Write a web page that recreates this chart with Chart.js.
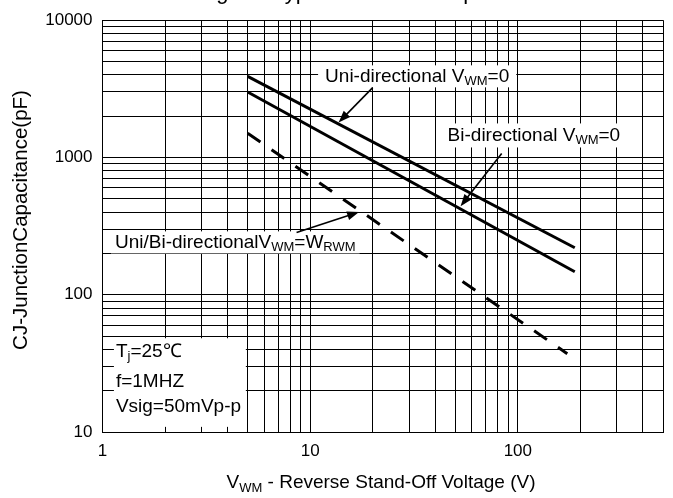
<!DOCTYPE html>
<html><head><meta charset="utf-8">
<script src="https://cdn.jsdelivr.net/npm/chart.js@4/dist/chart.umd.min.js"></script>
<style>html,body{margin:0;padding:0;background:#fff}#wrap{width:673px;height:498px}</style>
</head><body><div id="wrap"><canvas id="c" width="673" height="498"></canvas></div>
<script>
// ---- data ----
const xTicks = [1,2,3,4,5,6,7,8,9,10,20,30,40,50,60,70,80,90,100,200,300,400,500];
const yTicks = [10,20,30,40,50,60,70,80,90,100,200,300,400,500,600,700,800,900,1000,2000,3000,4000,5000,6000,7000,8000,9000,10000];
const xLabels = [1,10,100];
const yLabels = [10,100,1000,10000];
const uniX = [5, 188];
const uniY = [3900, 220];
const biX = [5, 188];
const biY = [3000, 147];
const rwmX = [5, 173];
const rwmY = [1500, 37.2];

const FONT = 'Liberation Sans, Arial, sans-serif';
Chart.defaults.font.family = FONT;
Chart.defaults.color = '#000';

function pts(xs, ys){ return xs.map((x,i)=>({x:x, y:ys[i]})); }

// annotation layout (data coordinates)
const notes = [
  {parts:[['Uni-directional V'],['WM',1],['=0']], x:11.8, y:3900, pad:[7,11]},
  {parts:[['Bi-directional V'],['WM',1],['=0']], x:45.9, y:1447, pad:[6,12]},
  {parts:[['Uni/Bi-directionalV'],['WM',1],['=W'],['RWM',1]], x:1.148, y:240.6, pad:[4,11]}
];
const arrows = [
  {from:[20.0,3226], to:[13.7,1800]},
  {from:[83.6,1069], to:[53,442]},
  {from:[8.6,284], to:[17.2,400]}
];
const condBox = {x1:1.135, x2:4.9, y1:48.2, y2:10.9};
const condLines = [
  {parts:[['T'],['j',1],['=25\u2103']], x:1.16, y:38.5},
  {parts:[['f=1MHZ']], x:1.16, y:23.2},
  {parts:[['Vsig=50mVp-p']], x:1.16, y:15.2}
];

function richWidth(ctx, parts, size, sub){
  let w=0;
  for(const p of parts){ ctx.font = (p[1]?sub:size)+'px '+FONT; w+=ctx.measureText(p[0]).width; }
  return w;
}
function drawRich(ctx, parts, x, y, size, sub, off){
  ctx.textBaseline='middle'; ctx.textAlign='left'; ctx.fillStyle='#000';
  for(const p of parts){
    ctx.font = (p[1]?sub:size)+'px '+FONT;
    ctx.fillText(p[0], x, y + (p[1]?off:0));
    x += ctx.measureText(p[0]).width;
  }
}
function arrow(ctx, x1,y1,x2,y2){
  const a=Math.atan2(y2-y1,x2-x1), L=12, H=4.5;
  ctx.strokeStyle='#000'; ctx.fillStyle='#000'; ctx.lineWidth=1.6;
  ctx.beginPath(); ctx.moveTo(x1,y1); ctx.lineTo(x2-L*Math.cos(a)*0.8,y2-L*Math.sin(a)*0.8); ctx.stroke();
  ctx.beginPath(); ctx.moveTo(x2,y2);
  ctx.lineTo(x2-L*Math.cos(a)+H*Math.sin(a), y2-L*Math.sin(a)-H*Math.cos(a));
  ctx.lineTo(x2-L*Math.cos(a)-H*Math.sin(a), y2-L*Math.sin(a)+H*Math.cos(a));
  ctx.closePath(); ctx.fill();
}

const annot = {
  id:'annot',
  afterDatasetsDraw(chart){
    const ctx=chart.ctx, sx=chart.scales.x, sy=chart.scales.y;
    const X=v=>sx.getPixelForValue(v), Y=v=>sy.getPixelForValue(v);
    ctx.save();
    // conditions box
    ctx.fillStyle='#fff';
    ctx.fillRect(X(condBox.x1), Y(condBox.y1), X(condBox.x2)-X(condBox.x1), Y(condBox.y2)-Y(condBox.y1));
    for(const l of condLines) drawRich(ctx, l.parts, X(l.x), Y(l.y), 19, 13, 5);
    // labels
    for(const n of notes){
      const w=richWidth(ctx,n.parts,19,13);
      const px=X(n.x), py=Y(n.y);
      ctx.fillStyle='#fff';
      ctx.fillRect(px-n.pad[0], py-n.pad[1], w+2*n.pad[0], 2*n.pad[1]);
      drawRich(ctx, n.parts, px, py, 19, 13, 5);
    }
    for(const a of arrows) arrow(ctx, X(a.from[0]),Y(a.from[1]),X(a.to[0]),Y(a.to[1]));
    ctx.restore();
  },
  afterDraw(chart){
    const ctx=chart.ctx;
    ctx.save();
    // title (cropped at the top edge as in the reference)
    ctx.fillStyle='#000'; ctx.textAlign='left'; ctx.textBaseline='alphabetic';
    ctx.font='22px '+FONT;
    ctx.fillText('Fig. 2 - Typical Junction Capacitance', 198, -1);
    // y title
    ctx.save(); ctx.translate(21, 220); ctx.rotate(-Math.PI/2);
    ctx.font='20.5px '+FONT; ctx.textAlign='center'; ctx.textBaseline='middle';
    ctx.fillText('CJ-JunctionCapacitance(pF)', 0, 0);
    ctx.restore();
    // x title
    const parts=[['V'],['WM',1],[' - Reverse Stand-Off Voltage (V)']];
    const w=richWidth(ctx,parts,19,13);
    drawRich(ctx, parts, 381-w/2, 483, 19, 13, 5);
    ctx.restore();
  }
};

const gridCommon = {color:'#000', lineWidth:1, drawTicks:false};
new Chart(document.getElementById('c'), {
  type:'line',
  data:{datasets:[
    {label:'Uni-directional VWM=0', data:pts(uniX,uniY), borderColor:'#000', borderWidth:3, pointRadius:0, fill:false, tension:0},
    {label:'Bi-directional VWM=0', data:pts(biX,biY), borderColor:'#000', borderWidth:3, pointRadius:0, fill:false, tension:0},
    {label:'Uni/Bi-directional VWM=VRWM', data:pts(rwmX,rwmY), borderColor:'#000', borderWidth:3, borderDash:[15.5,13.5], pointRadius:0, fill:false, tension:0}
  ]},
  options:{
    responsive:false, animation:false, devicePixelRatio:1,
    layout:{padding:{top:15,right:10,left:0,bottom:0}},
    plugins:{legend:{display:false}, tooltip:{enabled:false}, title:{display:false}},
    scales:{
      x:{type:'logarithmic', min:1, max:500,
        afterBuildTicks:s=>{ s.ticks = xTicks.map(v=>({value:v})); },
        afterFit:s=>{ s.height = 66; },
        ticks:{autoSkip:false, maxRotation:0, minRotation:0, padding:9, color:'#000', font:{size:17},
          callback:v=> xLabels.includes(v) ? String(v) : ''},
        grid:gridCommon, border:{color:'#000', width:1}},
      y:{type:'logarithmic', min:10, max:10000,
        afterBuildTicks:s=>{ s.ticks = yTicks.map(v=>({value:v})); },
        afterFit:s=>{ s.width = 102.5; },
        ticks:{autoSkip:false, padding:10, color:'#000', font:{size:17},
          callback:v=> yLabels.includes(v) ? String(v) : ''},
        grid:gridCommon, border:{color:'#000', width:1}}
    }
  },
  plugins:[annot]
});
</script></body></html>
